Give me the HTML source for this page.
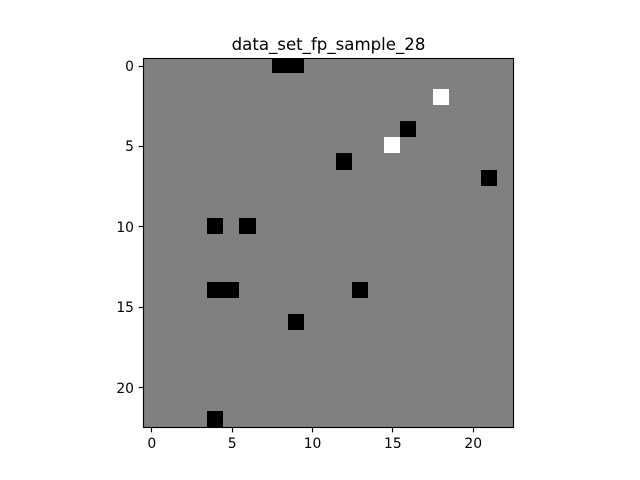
<!DOCTYPE html>
<html>
<head>
<meta charset="utf-8">
<title>data_set_fp_sample_28</title>
<style>
html,body{margin:0;padding:0;background:#fff;width:640px;height:480px;overflow:hidden}
svg{display:block}
text{font-family:"DejaVu Sans","Liberation Sans",sans-serif;fill:#000}
</style>
</head>
<body>
<svg id="chart" xmlns="http://www.w3.org/2000/svg" width="640" height="480" viewBox="0 0 640 480">
  <defs>
    <clipPath id="plot-clip"><rect x="143" y="58" width="371" height="370"/></clipPath>
  </defs>
  <rect x="0" y="0" width="640" height="480" fill="#ffffff"/>
  <text x="328.5" y="50" font-size="16.6" text-anchor="middle">data_set_fp_sample_28</text>
  <g id="cells" shape-rendering="crispEdges" clip-path="url(#plot-clip)"></g>
  <g id="axes"></g>
</svg>
<script>
const matrixValues = [
  [0,0,0,0,0,0,0,0,-1,-1,0,0,0,0,0,0,0,0,0,0,0,0,0],
  [0,0,0,0,0,0,0,0,0,0,0,0,0,0,0,0,0,0,0,0,0,0,0],
  [0,0,0,0,0,0,0,0,0,0,0,0,0,0,0,0,0,0,1,0,0,0,0],
  [0,0,0,0,0,0,0,0,0,0,0,0,0,0,0,0,0,0,0,0,0,0,0],
  [0,0,0,0,0,0,0,0,0,0,0,0,0,0,0,0,-1,0,0,0,0,0,0],
  [0,0,0,0,0,0,0,0,0,0,0,0,0,0,0,1,0,0,0,0,0,0,0],
  [0,0,0,0,0,0,0,0,0,0,0,0,-1,0,0,0,0,0,0,0,0,0,0],
  [0,0,0,0,0,0,0,0,0,0,0,0,0,0,0,0,0,0,0,0,0,-1,0],
  [0,0,0,0,0,0,0,0,0,0,0,0,0,0,0,0,0,0,0,0,0,0,0],
  [0,0,0,0,0,0,0,0,0,0,0,0,0,0,0,0,0,0,0,0,0,0,0],
  [0,0,0,0,-1,0,-1,0,0,0,0,0,0,0,0,0,0,0,0,0,0,0,0],
  [0,0,0,0,0,0,0,0,0,0,0,0,0,0,0,0,0,0,0,0,0,0,0],
  [0,0,0,0,0,0,0,0,0,0,0,0,0,0,0,0,0,0,0,0,0,0,0],
  [0,0,0,0,0,0,0,0,0,0,0,0,0,0,0,0,0,0,0,0,0,0,0],
  [0,0,0,0,-1,-1,0,0,0,0,0,0,0,-1,0,0,0,0,0,0,0,0,0],
  [0,0,0,0,0,0,0,0,0,0,0,0,0,0,0,0,0,0,0,0,0,0,0],
  [0,0,0,0,0,0,0,0,0,-1,0,0,0,0,0,0,0,0,0,0,0,0,0],
  [0,0,0,0,0,0,0,0,0,0,0,0,0,0,0,0,0,0,0,0,0,0,0],
  [0,0,0,0,0,0,0,0,0,0,0,0,0,0,0,0,0,0,0,0,0,0,0],
  [0,0,0,0,0,0,0,0,0,0,0,0,0,0,0,0,0,0,0,0,0,0,0],
  [0,0,0,0,0,0,0,0,0,0,0,0,0,0,0,0,0,0,0,0,0,0,0],
  [0,0,0,0,0,0,0,0,0,0,0,0,0,0,0,0,0,0,0,0,0,0,0],
  [0,0,0,0,-1,0,0,0,0,0,0,0,0,0,0,0,0,0,0,0,0,0,0]
];
const xTickValues = [0, 5, 10, 15, 20];
const yTickValues = [0, 5, 10, 15, 20];
const xTickLabels = ["0", "5", "10", "15", "20"];
const yTickLabels = ["0", "5", "10", "15", "20"];

const NS = "http://www.w3.org/2000/svg";
const plotLeft = 143.2, plotTop = 57.6, plotSize = 369.6;
const imageLeft = 142.95, imageTop = 56.95, imageSize = 370;
const tickLength = 4.86, tickPad = 4.86;

const rowCount = matrixValues.length;
const colCount = matrixValues[0].length;

// Axis functions: continuous data coordinates to pixels.
function xAxis(v) { return plotLeft + (v + 0.5) * plotSize / colCount; }
function yAxis(v) { return plotTop + (v + 0.5) * plotSize / rowCount; }
// Cell edges, pixel-snapped the way the image resampler does.
function xEdge(c) { return Math.round(imageLeft + c * imageSize / colCount); }
function yEdge(r) { return Math.round(imageTop + r * imageSize / rowCount); }
function snap(p) { return Math.floor(p + 0.5) + 0.5; }
function grayColor(v) {
  const g = Math.round(Math.max(0, Math.min(1, (v + 1) / 2)) * 255);
  return "rgb(" + g + "," + g + "," + g + ")";
}

const cellsGroup = document.getElementById("cells");
matrixValues.forEach(function (row, r) {
  row.forEach(function (value, c) {
    const cell = document.createElementNS(NS, "rect");
    
    
    cell.setAttribute("x", xEdge(c));
    cell.setAttribute("y", yEdge(r));
    cell.setAttribute("width", xEdge(c + 1) - xEdge(c));
    cell.setAttribute("height", yEdge(r + 1) - yEdge(r));
    cell.setAttribute("fill", grayColor(value));
    cellsGroup.appendChild(cell);
  });
});

const axesGroup = document.getElementById("axes");

xTickValues.forEach(function (value, i) {
  const px = xAxis(value);
  const tick = document.createElementNS(NS, "line");
  
  
  tick.setAttribute("x1", snap(px));
  tick.setAttribute("x2", snap(px));
  tick.setAttribute("y1", 427.5);
  tick.setAttribute("y2", 427.5 + tickLength);
  tick.setAttribute("stroke", "#000");
  tick.setAttribute("stroke-width", 1.11);
  axesGroup.appendChild(tick);
  const label = document.createElementNS(NS, "text");
  
  
  label.setAttribute("x", px + 0.6);
  label.setAttribute("y", 448);
  label.setAttribute("font-size", 13.89);
  label.setAttribute("text-anchor", "middle");
  label.textContent = xTickLabels[i];
  axesGroup.appendChild(label);
});

yTickValues.forEach(function (value, i) {
  const py = yAxis(value);
  const tick = document.createElementNS(NS, "line");
  
  
  tick.setAttribute("x1", 143.5);
  tick.setAttribute("x2", 143.5 - tickLength);
  tick.setAttribute("y1", snap(py));
  tick.setAttribute("y2", snap(py));
  tick.setAttribute("stroke", "#000");
  tick.setAttribute("stroke-width", 1.11);
  axesGroup.appendChild(tick);
  const label = document.createElementNS(NS, "text");
  
  
  label.setAttribute("x", plotLeft - tickLength - tickPad + 0.5);
  label.setAttribute("y", Math.round(py + 5.48));
  label.setAttribute("font-size", 13.89);
  label.setAttribute("text-anchor", "end");
  label.textContent = yTickLabels[i];
  axesGroup.appendChild(label);
});

const frame = document.createElementNS(NS, "rect");


frame.setAttribute("x", 143.5);
frame.setAttribute("y", 58.5);
frame.setAttribute("width", 370);
frame.setAttribute("height", 369);
frame.setAttribute("fill", "none");
frame.setAttribute("stroke", "#000");
frame.setAttribute("stroke-width", 1.11);
axesGroup.appendChild(frame);
</script>
</body>
</html>
